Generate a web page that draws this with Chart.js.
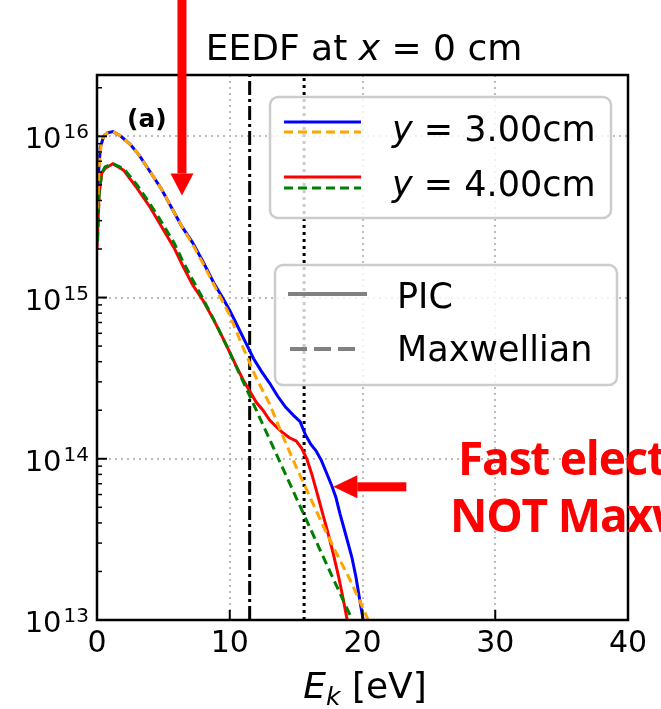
<!DOCTYPE html>
<html>
<head>
<meta charset="utf-8">
<script src="https://cdn.jsdelivr.net/npm/chart.js@4.4.0/dist/chart.umd.min.js"></script>
<style>
  html, body { margin: 0; padding: 0; background: #fff; }
</style>
</head>
<body>
<canvas id="eedf-chart" width="661" height="709"></canvas>
<script>
// EEDF at x = 0 cm (log y axis)
var e3PIC = [0, 0.1, 0.25, 0.5, 0.8, 1.2, 1.8, 2.5, 3.2, 4.0, 4.8, 5.6, 6.4, 7.2, 8.0, 8.8, 9.4, 10.0, 10.6, 11.2, 11.8, 12.4, 13.0, 13.6, 14.2, 14.8, 15.3, 15.7, 16.1, 16.5, 16.9, 17.3, 17.7, 18.0, 18.3, 18.6, 18.9, 19.2, 19.5, 19.8, 20.1];
var f3PIC = [3.98e15, 5.62e15, 8.51e15, 1.0e16, 1.05e16, 1.07e16, 1.0e16, 8.91e15, 7.59e15, 6.03e15, 4.79e15, 3.63e15, 2.75e15, 2.19e15, 1.66e15, 1.23e15, 1.02e15, 8.32e14, 6.61e14, 5.25e14, 4.17e14, 3.47e14, 2.95e14, 2.45e14, 2.09e14, 1.86e14, 1.70e14, 1.41e14, 1.23e14, 1.12e14, 9.77e13, 8.13e13, 6.76e13, 5.75e13, 4.57e13, 3.72e13, 3.02e13, 2.45e13, 1.86e13, 1.32e13, 9.5e12];

var e3Max = [0.05, 0.15, 0.3, 0.5, 0.8, 1.2, 1.8, 2.5, 3.2, 4.0, 4.8, 5.6, 6.4, 7.2, 8.0, 9.0, 10.0, 11.0, 12.0, 13.0, 14.0, 15.0, 16.0, 17.0, 18.0, 19.0, 20.0, 20.6];
var f3Max = [3.55e15, 6.31e15, 8.71e15, 1.0e16, 1.05e16, 1.07e16, 1.0e16, 8.91e15, 7.59e15, 6.03e15, 4.79e15, 3.63e15, 2.75e15, 2.14e15, 1.62e15, 1.12e15, 7.76e14, 4.90e14, 3.16e14, 2.19e14, 1.38e14, 8.91e13, 5.89e13, 3.89e13, 2.63e13, 1.82e13, 1.20e13, 9.3e12];

var e4PIC = [0, 0.15, 0.35, 0.6, 1.2, 2.0, 3.0, 4.0, 5.0, 5.8, 6.5, 7.2, 8.0, 8.8, 9.6, 10.4, 11.0, 11.5, 12.0, 12.5, 13.0, 13.5, 14.0, 14.5, 15.0, 15.4, 15.8, 16.2, 16.6, 17.0, 17.4, 17.8, 18.2, 18.5, 18.8, 19.0];
var f4PIC = [2.0e15, 4.27e15, 5.89e15, 6.31e15, 6.76e15, 6.17e15, 4.79e15, 3.63e15, 2.63e15, 2.04e15, 1.55e15, 1.20e15, 9.55e14, 7.24e14, 5.37e14, 3.89e14, 3.09e14, 2.63e14, 2.24e14, 2.0e14, 1.74e14, 1.58e14, 1.45e14, 1.35e14, 1.29e14, 1.17e14, 1.0e14, 7.94e13, 6.03e13, 4.57e13, 3.47e13, 2.57e13, 1.86e13, 1.41e13, 1.05e13, 8.9e12];

var e4Max = [0.05, 0.15, 0.35, 0.6, 1.2, 2.0, 3.0, 4.0, 5.0, 5.8, 6.5, 7.2, 8.0, 9.0, 10.0, 11.0, 12.0, 13.0, 14.0, 15.0, 16.0, 17.0, 18.0, 19.0, 19.5];
var f4Max = [2.24e15, 4.27e15, 5.89e15, 6.46e15, 6.76e15, 6.31e15, 5.01e15, 3.80e15, 2.82e15, 2.19e15, 1.66e15, 1.29e15, 9.77e14, 6.76e14, 4.57e14, 3.02e14, 2.0e14, 1.32e14, 8.71e13, 5.75e13, 3.80e13, 2.51e13, 1.66e13, 1.10e13, 8.9e12];

var xTicks = [0, 10, 20, 30, 40];
var yRange = [1e13, 2.4e16];
var thresholds = [11.5, 15.6]; // dash-dot and dotted markers [eV]

var FONT = "'DejaVu Sans', sans-serif";

function pts(es, fs) {
  return es.map(function (e, i) { return { x: e, y: fs[i] }; });
}
function vline(e) {
  return [{ x: e, y: yRange[0] }, { x: e, y: yRange[1] }];
}
function curve(label, data, color, dash) {
  return {
    label: label, data: data, borderColor: color, borderWidth: 3,
    borderDash: dash || [], pointRadius: 0, fill: false, tension: 0
  };
}
function isDecade(v) {
  var l = Math.log10(v);
  return Math.abs(l - Math.round(l)) < 1e-9;
}

// mixed font text (for italic math symbols)
function drawRuns(ctx, runs, x, y, align) {
  var total = 0;
  runs.forEach(function (r) { ctx.font = r.f; total += ctx.measureText(r.t).width; });
  var cx = align === "center" ? x - total / 2 : (align === "right" ? x - total : x);
  runs.forEach(function (r) {
    ctx.font = r.f;
    ctx.fillText(r.t, cx, y + (r.dy || 0));
    cx += ctx.measureText(r.t).width;
  });
}

function roundBox(ctx, x, y, w, h, r) {
  ctx.beginPath();
  ctx.moveTo(x + r, y);
  ctx.arcTo(x + w, y, x + w, y + h, r);
  ctx.arcTo(x + w, y + h, x, y + h, r);
  ctx.arcTo(x, y + h, x, y, r);
  ctx.arcTo(x, y, x + w, y, r);
  ctx.closePath();
  ctx.fillStyle = "rgba(255,255,255,0.8)";
  ctx.fill();
  ctx.strokeStyle = "#cccccc";
  ctx.lineWidth = 2.5;
  ctx.stroke();
}

function sample(ctx, x1, x2, y, color, dash, w) {
  ctx.beginPath();
  ctx.setLineDash(dash);
  ctx.strokeStyle = color;
  ctx.lineWidth = w;
  ctx.moveTo(x1, y); ctx.lineTo(x2, y); ctx.stroke();
  ctx.setLineDash([]);
}

var decorations = {
  id: "decorations",
  afterDraw: function (chart) {
    var ctx = chart.ctx, a = chart.chartArea;
    var xs = chart.scales.x, ys = chart.scales.y;
    ctx.save();

    // frame
    ctx.strokeStyle = "#000";
    ctx.lineWidth = 2.5;
    ctx.strokeRect(a.left, a.top, a.right - a.left, a.bottom - a.top);

    // inward ticks
    ctx.lineWidth = 2;
    xs.ticks.forEach(function (t) {
      var px = xs.getPixelForValue(t.value);
      ctx.beginPath(); ctx.moveTo(px, a.bottom); ctx.lineTo(px, a.bottom - 10); ctx.stroke();
    });
    ctx.fillStyle = "#000";
    ctx.textBaseline = "alphabetic";
    ys.ticks.forEach(function (t) {
      var p = Math.floor(Math.log10(t.value) + 1e-9);
      var s = t.value / Math.pow(10, p);
      if (Math.abs(s - Math.round(s)) > 1e-6) return;
      var major = Math.round(s) === 1;
      var py = ys.getPixelForValue(t.value);
      ctx.lineWidth = major ? 2 : 1.5;
      ctx.beginPath(); ctx.moveTo(a.left, py); ctx.lineTo(a.left + (major ? 10 : 5), py); ctx.stroke();
      if (major) {
        // 10^n tick label
        ctx.font = "20px " + FONT;
        var sw = ctx.measureText(String(p)).width;
        ctx.textAlign = "right";
        ctx.fillText(String(p), 89, py + 2);
        ctx.font = "29px " + FONT;
        ctx.fillText("10", 89 - sw - 2, py + 12);
      }
    });
    ctx.textAlign = "left";

    // title and x label
    drawRuns(ctx, [
      { t: "EEDF at ", f: "36px " + FONT },
      { t: "x", f: "italic 36px " + FONT },
      { t: " = 0 cm", f: "36px " + FONT }
    ], 364, 60, "center");
    drawRuns(ctx, [
      { t: "E", f: "italic 36px " + FONT },
      { t: "k", f: "italic 25px " + FONT, dy: 7 },
      { t: " [eV]", f: "36px " + FONT }
    ], 365, 698, "center");

    // panel tag
    ctx.font = "bold 25px " + FONT;
    ctx.fillText("(a)", 127, 127);

    // legend 1
    roundBox(ctx, 270, 97, 341, 121, 8);
    sample(ctx, 284, 361, 122, "#0000ff", [], 3);
    sample(ctx, 284, 361, 132, "#ffa500", [9, 5], 3);
    sample(ctx, 284, 361, 177, "#ff0000", [], 3);
    sample(ctx, 284, 361, 188, "#008000", [9, 5], 3);
    ctx.fillStyle = "#000";
    drawRuns(ctx, [{ t: "y", f: "italic 35px " + FONT }, { t: " = 3.00cm", f: "35px " + FONT }], 392, 141, "left");
    drawRuns(ctx, [{ t: "y", f: "italic 35px " + FONT }, { t: " = 4.00cm", f: "35px " + FONT }], 392, 196, "left");

    // legend 2
    roundBox(ctx, 275, 265, 342, 120, 8);
    sample(ctx, 288, 367, 294, "#808080", [], 4);
    sample(ctx, 290, 360, 349, "#808080", [17, 7], 4);
    ctx.fillStyle = "#000";
    ctx.font = "35px " + FONT;
    ctx.fillText("PIC", 397, 308);
    ctx.fillText("Maxwellian", 397, 361);

    // red arrows
    ctx.fillStyle = "#ff0000";
    var tx = xs.getPixelForValue(6.4), ty = ys.getPixelForValue(4.3e15);
    ctx.fillRect(tx - 4.5, -5, 9, ty - 22 + 5);
    ctx.beginPath();
    ctx.moveTo(tx - 11.5, ty - 22); ctx.lineTo(tx + 11.5, ty - 22); ctx.lineTo(tx, ty);
    ctx.closePath(); ctx.fill();

    var hx = xs.getPixelForValue(17.8), hy = ys.getPixelForValue(6.7e13), hEnd = xs.getPixelForValue(23.3);
    ctx.fillRect(hx + 24, hy - 4.5, hEnd - hx - 24, 9);
    ctx.beginPath();
    ctx.moveTo(hx + 24, hy - 11.5); ctx.lineTo(hx + 24, hy + 11.5); ctx.lineTo(hx, hy);
    ctx.closePath(); ctx.fill();

    // red note (cut at the right edge)
    ctx.font = "bold 46px 'Open Sans', sans-serif";
    ctx.letterSpacing = "-1.2px";
    ctx.fillText("Fast electrons", 458, 475);
    ctx.fillText("NOT Maxwellian", 450, 532);
    ctx.letterSpacing = "0px";

    ctx.restore();
  }
};

var ctx = document.getElementById("eedf-chart").getContext("2d");

var chart = new Chart(ctx, {
  type: "line",
  data: {
    datasets: [
      curve("Maxwellian y=3.00cm", pts(e3Max, f3Max), "#ffa500", [9, 5]),
      curve("Maxwellian y=4.00cm", pts(e4Max, f4Max), "#008000", [9, 5]),
      curve("PIC y=3.00cm", pts(e3PIC, f3PIC), "#0000ff"),
      curve("PIC y=4.00cm", pts(e4PIC, f4PIC), "#ff0000"),
      curve("threshold 1", vline(thresholds[0]), "#000000", [14, 4, 3, 4]),
      curve("threshold 2", vline(thresholds[1]), "#000000", [3, 4])
    ]
  },
  options: {
    responsive: false,
    animation: false,
    devicePixelRatio: 1,
    layout: { padding: { top: 75, right: 33, left: 0, bottom: 0 } },
    plugins: { legend: { display: false }, title: { display: false }, tooltip: { enabled: false } },
    scales: {
      x: {
        type: "linear",
        min: xTicks[0],
        max: xTicks[xTicks.length - 1],
        afterBuildTicks: function (s) { s.ticks = xTicks.map(function (v) { return { value: v }; }); },
        afterFit: function (s) { s.height = 89; },
        ticks: { color: "#000", font: { family: FONT, size: 30 }, padding: 6, maxRotation: 0 },
        grid: {
          drawTicks: false,
          lineWidth: 2,
          color: function (c) {
            var v = c.tick && c.tick.value;
            return (v === xTicks[0] || v === xTicks[xTicks.length - 1]) ? "rgba(0,0,0,0)" : "#bdbdbd";
          }
        },
        border: { display: false, dash: [2, 4] }
      },
      y: {
        type: "logarithmic",
        min: yRange[0],
        max: yRange[1],
        afterFit: function (s) { s.width = 97; },
        ticks: { display: false, autoSkip: false },
        grid: {
          drawTicks: false,
          lineWidth: 2,
          color: function (c) {
            var v = c.tick && c.tick.value;
            if (!v) return "rgba(0,0,0,0)";
            return (isDecade(v) && v > yRange[0]) ? "#bdbdbd" : "rgba(0,0,0,0)";
          }
        },
        border: { display: false, dash: [2, 4] }
      }
    }
  },
  plugins: [decorations]
});
</script>
</body>
</html>
